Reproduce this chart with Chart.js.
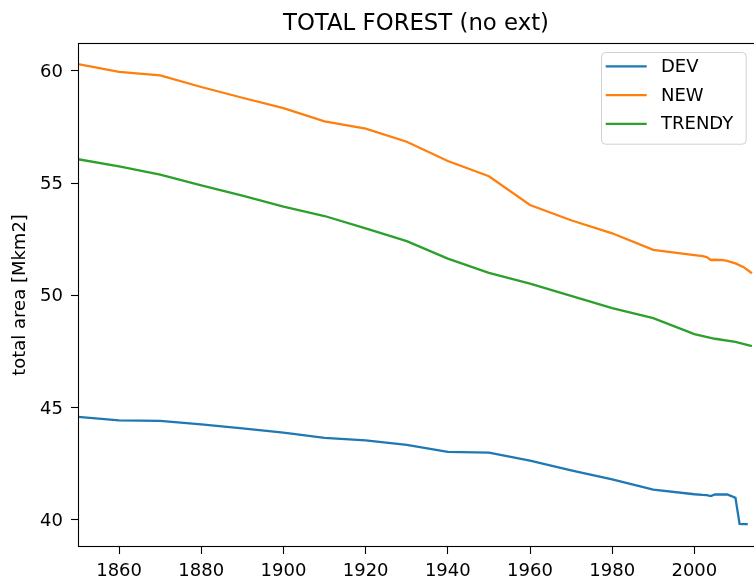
<!DOCTYPE html>
<html>
<head>
<meta charset="utf-8">
<script src="https://cdn.jsdelivr.net/npm/chart.js@4.4.1/dist/chart.umd.min.js"></script>
<style>
  html, body { margin: 0; padding: 0; overflow: hidden; background: #fff; width: 754px; height: 578px; }
  #wrap { width: 757px; height: 578px; }
  canvas { display: block; }
</style>
</head>
<body>
<div id="wrap"><canvas id="chart" width="757" height="578"></canvas></div>
<script>
// Texts
const chartTitle = 'TOTAL FOREST (no ext)';
const yAxisLabel = 'total area [Mkm2]';
const seriesNames = ['DEV', 'NEW', 'TRENDY'];
const seriesColors = ['#1f77b4', '#ff7f0e', '#2ca02c'];

// Axis ranges and ticks
const xRange = [1850, 2015];
const yRange = [38.78, 61.24];
const xTicks = [1860, 1880, 1900, 1920, 1940, 1960, 1980, 2000];
const yTicks = [40, 45, 50, 55, 60];

// DEV
const devYears  = [1850, 1860, 1870, 1880, 1890, 1900, 1910, 1920, 1930, 1940, 1950, 1960, 1970, 1980, 1990, 2000, 2002, 2003, 2004, 2005, 2008, 2009, 2010, 2011, 2012, 2013];
const devValues = [44.58, 44.42, 44.40, 44.24, 44.07, 43.88, 43.64, 43.53, 43.33, 43.02, 42.99, 42.63, 42.19, 41.79, 41.34, 41.13, 41.10, 41.09, 41.05, 41.12, 41.12, 41.05, 40.97, 39.81, 39.80, 39.80];

// NEW
const newYears  = [1850, 1860, 1870, 1880, 1890, 1900, 1910, 1920, 1930, 1940, 1950, 1960, 1970, 1980, 1990, 2000, 2002, 2003, 2004, 2005, 2007, 2008, 2010, 2012, 2014];
const newValues = [60.30, 59.95, 59.80, 59.28, 58.80, 58.34, 57.75, 57.42, 56.84, 55.98, 55.30, 54.02, 53.34, 52.76, 52.02, 51.79, 51.74, 51.70, 51.57, 51.58, 51.56, 51.53, 51.42, 51.25, 50.98];

// TRENDY
const trendyYears  = [1850, 1860, 1870, 1880, 1890, 1900, 1910, 1920, 1930, 1940, 1950, 1960, 1970, 1980, 1990, 2000, 2005, 2010, 2014];
const trendyValues = [56.06, 55.74, 55.37, 54.90, 54.44, 53.95, 53.53, 52.98, 52.41, 51.63, 51.00, 50.52, 49.97, 49.43, 48.98, 48.27, 48.06, 47.92, 47.73];

const FONT = '"DejaVu Sans", sans-serif';
const toPoints = (xs, ys) => xs.map((x, i) => ({ x, y: ys[i] }));

const seriesData = [
  toPoints(devYears, devValues),
  toPoints(newYears, newValues),
  toPoints(trendyYears, trendyValues)
];

// Title centred over the plot area
const titlePlugin = {
  id: 'plotTitle',
  afterDraw(chart) {
    const { ctx, chartArea: a } = chart;
    ctx.save();
    ctx.font = '22.8px ' + FONT;
    ctx.fillStyle = '#000';
    ctx.textAlign = 'center';
    ctx.textBaseline = 'alphabetic';
    ctx.fillText(chartTitle, (a.left + a.right) / 2 - 1, 29.5);
    ctx.restore();
  }
};

// Axes frame on all four sides
const framePlugin = {
  id: 'frame',
  afterDatasetsDraw(chart) {
    const { ctx, chartArea: a } = chart;
    ctx.save();
    ctx.strokeStyle = '#000';
    ctx.lineWidth = 1.1;
    ctx.strokeRect(Math.round(a.left) + 0.5, Math.round(a.top) + 0.5,
                   Math.round(a.right - a.left) - 1, Math.round(a.bottom - a.top) - 1);
    ctx.restore();
  }
};

// Legend box in the upper right of the plot
const legendPlugin = {
  id: 'boxLegend',
  afterDraw(chart) {
    const { ctx, chartArea: a } = chart;
    const w = 144.7, h = 91.7;
    const x0 = a.right - 10.3 - w;
    const y0 = a.top + 9;
    ctx.save();
    ctx.beginPath();
    ctx.roundRect(x0 + 0.5, y0 + 0.5, w, h, 4);
    ctx.fillStyle = 'rgba(255,255,255,0.8)';
    ctx.fill();
    ctx.strokeStyle = 'rgba(204,204,204,0.9)';
    ctx.lineWidth = 1;
    ctx.stroke();
    ctx.font = '18px ' + FONT;
    ctx.textBaseline = 'middle';
    ctx.textAlign = 'left';
    chart.data.datasets.forEach((ds, i) => {
      const y = y0 + 14.4 + i * 28.7;
      ctx.beginPath();
      ctx.moveTo(x0 + 4.7, y);
      ctx.lineTo(x0 + 45.7, y);
      ctx.strokeStyle = ds.borderColor;
      ctx.lineWidth = 2.3;
      ctx.stroke();
      ctx.fillStyle = '#000';
      ctx.fillText(ds.label, x0 + 60, y + 1);
    });
    ctx.restore();
  }
};

new Chart(document.getElementById('chart'), {
  type: 'line',
  data: {
    datasets: seriesNames.map((name, i) => ({
      label: name,
      data: seriesData[i],
      borderColor: seriesColors[i],
      backgroundColor: seriesColors[i],
      borderWidth: 2.3,
      pointRadius: 0,
      tension: 0,
      fill: false,
      order: i
    }))
  },
  options: {
    responsive: false,
    animation: false,
    devicePixelRatio: 1,
    layout: { padding: { top: 43, right: 1, bottom: 0, left: 0 } },
    plugins: {
      legend: { display: false },
      title: { display: false },
      tooltip: { enabled: false }
    },
    scales: {
      x: {
        type: 'linear',
        min: xRange[0],
        max: xRange[1],
        afterBuildTicks(scale) { scale.ticks = xTicks.map(v => ({ value: v })); },
        afterFit(scale) { scale.height = 31; },
        border: { display: false },
        grid: { drawOnChartArea: false, drawTicks: true, tickLength: 7, tickColor: '#000', tickWidth: 1.1, color: '#000' },
        ticks: {
          autoSkip: false,
          maxRotation: 0,
          padding: 7,
          color: '#000',
          font: { family: FONT, size: 18 },
          callback: v => String(v)
        }
      },
      y: {
        type: 'linear',
        min: yRange[0],
        max: yRange[1],
        afterBuildTicks(scale) { scale.ticks = yTicks.map(v => ({ value: v })); },
        afterFit(scale) { scale.width = 78; },
        border: { display: false },
        grid: { drawOnChartArea: false, drawTicks: true, tickLength: 7, tickColor: '#000', tickWidth: 1.1, color: '#000' },
        ticks: {
          autoSkip: false,
          padding: 8,
          labelOffset: 1.5,
          color: '#000',
          font: { family: FONT, size: 18 },
          callback: v => String(v)
        },
        title: {
          display: true,
          text: yAxisLabel,
          color: '#000',
          font: { family: FONT, size: 18 },
          padding: { top: 10, bottom: 0 }
        }
      }
    }
  },
  plugins: [titlePlugin, framePlugin, legendPlugin]
});
</script>
</body>
</html>
